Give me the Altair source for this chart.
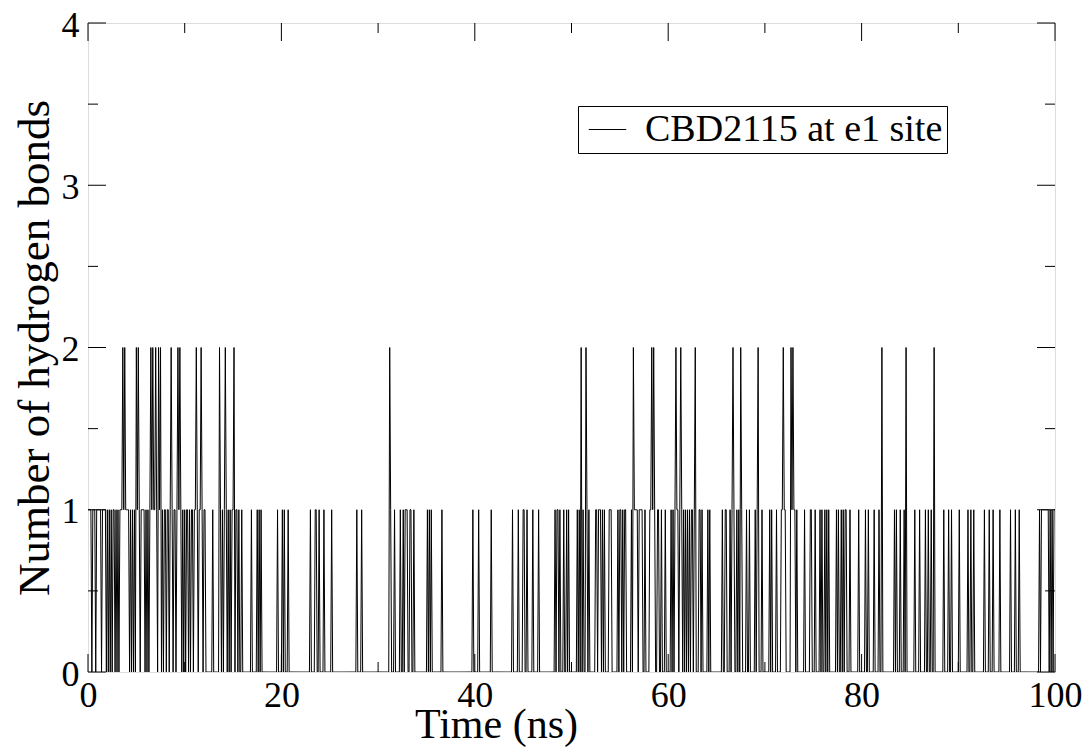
import altair as alt
import pandas as pd

# Hydrogen-bond count sampled every 0.1 ns, one character per frame (0/1/2),
# one string per 10 ns, read from the reference picture.
DT = 0.1
block_00_10 = ("1111011101" "1111011110" "1010101101" "0101112121" "1110101010"
               "2121011110" "1010121211" "2102120101" "1011012101" "1012121010")
block_10_20 = ("1011010110" "1121011210" "1100000001" "0000002101" "0121010101"
               "1201101001" "0000000001" "0000010101" "0000000000" "0000001000")
block_20_30 = ("0101000100" "0000000000" "0000000000" "1000011001" "0000100000"
               "0010000000" "0000000000" "0000000010" "0001000000" "0000000000")
block_30_40 = ("0000000000" "0021000100" "0001001011" "1001100100" "0000000000"
               "0101010000" "0000001000" "0000000000" "0000000000" "0000000010")
block_40_50 = ("0000100000" "0000000100" "0000000000" "0000000001" "0000010000"
               "1100100000" "1000001000" "0000000000" "0001011010" "0010010100")
block_50_60 = ("0000001010" "2010021010" "0000011011" "1010100001" "1100000010"
               "1101011000" "0010211110" "1111001000" "0112121001" "1001000100")
block_60_70 = ("0001010121" "1012101010" "1010110120" "0011010000" "0101000000"
               "0000001001" "1000101210" "0101021000" "0100100000" "1012000100")
block_70_80 = ("0000010100" "0010000112" "1100000212" "1101000000" "0100000110"
               "0010000101" "0010101000" "0000101001" "0101100010" "0000000100")
block_80_90 = ("0000100100" "0001000010" "0200000000" "0000101000" "1000102000"
               "0000010000" "1000001001" "0010020000" "0000010000" "1001000000")
block_90_100 = ("0100000000" "1001001000" "0000000100" "0010001000" "0001000000"
                "0000100001" "0001000000" "0000000000" "0000101111" "1111010101" "1")

blocks = [block_00_10, block_10_20, block_20_30, block_30_40, block_40_50,
          block_50_60, block_60_70, block_70_80, block_80_90, block_90_100]
frames = "".join(blocks)
series = pd.DataFrame({
    "t": [round(i * DT, 1) for i in range(len(frames))],
    "v": [int(c) for c in frames],
    "s": ["CBD2115 at e1 site"] * len(frames),
})

x_major = [0, 20, 40, 60, 80, 100]
x_minor = [10, 30, 50, 70, 90]
y_major = [0, 1, 2, 3, 4]
y_minor = [0.5, 1.5, 2.5, 3.5]

W, H = 967, 649
FONT = "Liberation Serif"
MAJ, MIN = 18, 10

xs = alt.Scale(domain=[0, 100], nice=False, zero=False)
ys = alt.Scale(domain=[0, 4], nice=False)

line = alt.Chart(series).mark_line(strokeWidth=1, interpolate="linear", clip=True).encode(
    x=alt.X("t:Q", scale=xs, title="Time (ns)",
            axis=alt.Axis(values=x_major, ticks=False, domain=False, grid=False,
                          format="d",
                          labelFont=FONT, labelFontSize=36, labelColor="black",
                          labelPadding=6, labelFlush=False,
                          titleFont=FONT, titleFontSize=42, titleFontWeight="normal",
                          titleColor="black", titlePadding=-9, titleX=408)),
    y=alt.Y("v:Q", scale=ys, title="Number of hydrogen bonds",
            axis=alt.Axis(values=y_major, ticks=False, domain=False, grid=False,
                          format="d",
                          labelFont=FONT, labelFontSize=36, labelColor="black",
                          labelPadding=9, labelFlush=False, labelOffset=2,
                          titleFont=FONT, titleFontSize=45, titleFontWeight="normal",
                          titleColor="black", titlePadding=4)),
    color=alt.Color("s:N", scale=alt.Scale(range=["black"]), title=None,
                    legend=alt.Legend(orient="none", legendX=490, legendY=83,
                                      symbolType="stroke", symbolStrokeWidth=1,
                                      symbolSize=1400, symbolStrokeColor="black",
                                      symbolOffset=6,
                                      labelFont=FONT, labelFontSize=38, labelColor="black",
                                      labelOffset=18, labelLimit=0, padding=4,
                                      strokeColor="black", fillColor="white")),
)

tx = pd.DataFrame({"t": x_major})
tx2 = pd.DataFrame({"t": x_minor})
ty = pd.DataFrame({"v": y_major})
ty2 = pd.DataFrame({"v": y_minor})

def xticks(df, length):
    b = alt.Chart(df).mark_rule(color="black", strokeWidth=1).encode(
        x=alt.X("t:Q", scale=xs), y=alt.value(H), y2=alt.value(H - length))
    t = alt.Chart(df).mark_rule(color="black", strokeWidth=1).encode(
        x=alt.X("t:Q", scale=xs), y=alt.value(0), y2=alt.value(length))
    return b + t

def yticks(df, length):
    l = alt.Chart(df).mark_rule(color="black", strokeWidth=1).encode(
        y=alt.Y("v:Q", scale=ys), x=alt.value(0), x2=alt.value(length))
    r = alt.Chart(df).mark_rule(color="black", strokeWidth=1).encode(
        y=alt.Y("v:Q", scale=ys), x=alt.value(W), x2=alt.value(W - length))
    return l + r

chart = alt.layer(
    line,
    xticks(tx, MAJ), xticks(tx2, MIN),
    yticks(ty, MAJ), yticks(ty2, MIN),
).properties(
    width=W, height=H,
    autosize=alt.AutoSizeParams(type="none"),
    padding={"left": 80, "top": 15, "right": 27, "bottom": 75},
).configure_view(
    stroke="black", strokeWidth=1.5
).configure(background="white")

chart.save("out.html", embed_options={"renderer": "svg", "actions": False})
